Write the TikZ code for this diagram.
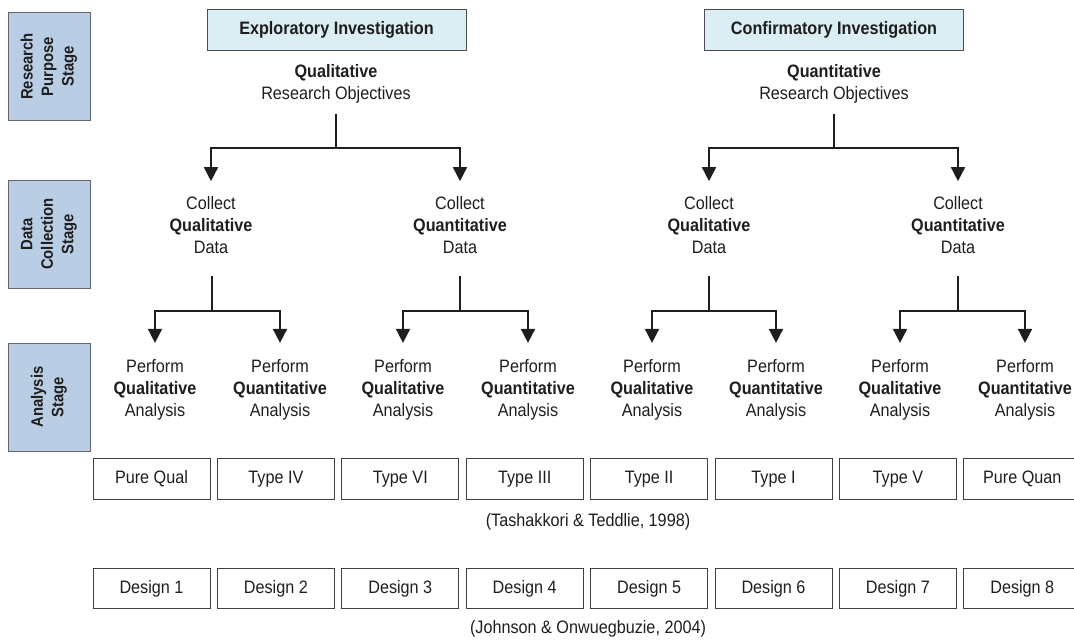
\documentclass[tikz,border=0pt]{standalone}
\usepackage{fontspec}
\setmainfont{Liberation Sans}[FakeStretch=0.9]
\usetikzlibrary{arrows.meta}
\definecolor{stagefill}{HTML}{B9CDE5}
\definecolor{headfill}{HTML}{DBEEF3}
\definecolor{ink}{HTML}{1E1E1E}

\begin{document}
\begin{tikzpicture}[x=1pt,y=-1pt,
  txt/.style={align=center,inner sep=0pt,text=ink,font=\fontsize{18}{22}\selectfont},
  stagebox/.style={draw=black!60,fill=stagefill,line width=0.8pt,rotate=90,
    minimum width=108pt,minimum height=82pt,inner sep=0pt,align=center,
    text=ink,font=\bfseries\fontsize{16.5}{20.5}\selectfont},
  head/.style={draw=black!70,fill=headfill,line width=0.8pt,minimum height=41pt,
    minimum width=259pt,inner sep=0pt,text=ink,font=\bfseries\fontsize{18}{21}\selectfont},
  cell/.style={draw=black!75,line width=0.8pt,minimum width=117pt,minimum height=40.5pt,
    inner sep=0pt,text=ink,font=\fontsize{18}{22}\selectfont},
  link/.style={line width=1.6pt,draw=ink},
  arr/.style={link,-{Triangle[width=14pt,length=14pt]},shorten >=15pt},
]
\useasboundingbox (0,0) rectangle (1074,644);
\clip (0,0) rectangle (1074,644);

% stage labels on the left
\node[stagebox] (sPurpose) at (49,66.5) {Research\\Purpose\\Stage};
\node[stagebox] (sCollect) at (49,234) {Data\\Collection\\Stage};
\node[stagebox] (sAnalysis) at (49,397) {Analysis\\Stage};

% investigation headers
\node[head] (hExp) at (336.5,29.5) {Exploratory Investigation};
\node[head] (hConf) at (834,29.5) {Confirmatory Investigation};

% research objectives
\node[txt] (objL) at (336,83.5) {\textbf{Qualitative}\\Research Objectives};
\node[txt] (objR) at (834,83.5) {\textbf{Quantitative}\\Research Objectives};

% data collection
\node[txt] (colA) at (211,225) {Collect\\\textbf{Qualitative}\\Data};
\node[txt] (colB) at (460,225) {Collect\\\textbf{Quantitative}\\Data};
\node[txt] (colC) at (709,225) {Collect\\\textbf{Qualitative}\\Data};
\node[txt] (colD) at (958,225) {Collect\\\textbf{Quantitative}\\Data};

% analysis
\foreach \n/\x/\k in {1/155/Qualitative,2/280/Quantitative,3/403/Qualitative,4/528/Quantitative,
                      5/652/Qualitative,6/776/Quantitative,7/900/Qualitative,8/1025/Quantitative}
  \node[txt] (an\n) at (\x,389.5) {Perform\\\textbf{\k}\\Analysis};

% junctions of the branching connectors
\coordinate (jL) at (336,148);
\coordinate (jR) at (834,148);
\coordinate (jA) at (212,311);
\coordinate (jB) at (460,311);
\coordinate (jC) at (709,311);
\coordinate (jD) at (958,311);

\draw[link,shorten <=11pt] (objL.south -| jL) -- (jL);
\draw[link,shorten <=11pt] (objR.south -| jR) -- (jR);
\draw[arr] (jL) -| (colA);
\draw[arr] (jL) -| (colB);
\draw[arr] (jR) -| (colC);
\draw[arr] (jR) -| (colD);

\foreach \c/\j/\a/\b in {colA/jA/an1/an2,colB/jB/an3/an4,colC/jC/an5/an6,colD/jD/an7/an8}{
  \draw[link,shorten <=22pt] (\c.south -| \j) -- (\j);
  \draw[arr,shorten >=16pt] (\j) -| (\a);
  \draw[arr,shorten >=16pt] (\j) -| (\b);
}

% typologies
\foreach \n/\t [count=\i from 0] in {1/Pure Qual,2/Type IV,3/Type VI,4/Type III,5/Type II,6/Type I,7/Type V,8/Pure Quan}
  \node[cell] (ty\n) at (151.5+124.4*\i,479) {\t};
\node[txt] (citeTT) at (588,522) {(Tashakkori \& Teddlie, 1998)};

\foreach \n [count=\i from 0] in {1,...,8}
  \node[cell] (ds\n) at (151.5+124.4*\i,588.5) {Design \n};
\node[txt] (citeJO) at (588,629) {(Johnson \& Onwuegbuzie, 2004)};
\end{tikzpicture}
\end{document}
